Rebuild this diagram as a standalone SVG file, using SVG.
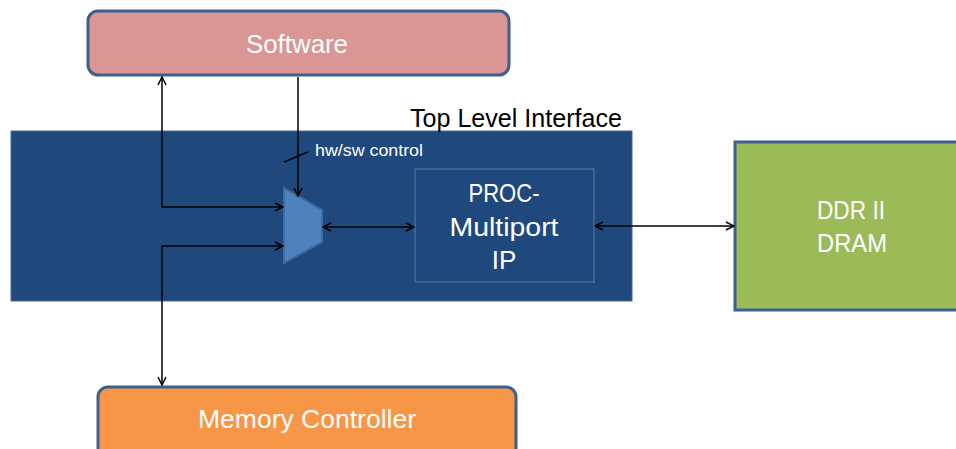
<svg xmlns="http://www.w3.org/2000/svg" width="956" height="449" viewBox="0 0 956 449">
  <style>
    .lbl { font-family: "Liberation Sans", Arial, sans-serif; fill: #ffffff; text-anchor: middle; }
    .box { stroke: #3C5F8E; stroke-width: 3; }
    .wire { fill: none; stroke: #000000; stroke-width: 1.5; }
  </style>
  <defs>
    <marker id="arrow" viewBox="0 0 10 10" refX="9" refY="5" markerWidth="10" markerHeight="10" markerUnits="userSpaceOnUse" orient="auto-start-reverse">
      <path d="M1,1 L9,5 L1,9" fill="none" stroke="#000000" stroke-width="1.5"/>
    </marker>
  </defs>

  <rect width="956" height="449" fill="#ffffff"/>

  <!-- top level interface block -->
  <g id="top-level">
    <rect x="11" y="131" width="621" height="170" fill="#1F497D" stroke="#4A6A95" stroke-width="1"/>
    <text x="410" y="127" font-family="'Liberation Sans', Arial, sans-serif" font-size="25" fill="#000000" textLength="212" lengthAdjust="spacingAndGlyphs">Top Level Interface</text>
  </g>

  <g id="software">
    <rect class="box" x="88" y="11" width="421" height="64" rx="10" fill="#D99694"/>
    <text class="lbl" x="297" y="53" font-size="26" textLength="102" lengthAdjust="spacingAndGlyphs">Software</text>
  </g>

  <g id="memory-controller">
    <rect class="box" x="98" y="387" width="418" height="75" rx="10" fill="#F79646"/>
    <text class="lbl" x="307" y="428" font-size="26" textLength="218" lengthAdjust="spacingAndGlyphs">Memory Controller</text>
  </g>

  <g id="ddr-dram">
    <rect class="box" x="735" y="142" width="240" height="168" fill="#9BBB59"/>
    <text class="lbl" x="851" y="219" font-size="26" textLength="68" lengthAdjust="spacingAndGlyphs">DDR II</text>
    <text class="lbl" x="852" y="252" font-size="26" textLength="70" lengthAdjust="spacingAndGlyphs">DRAM</text>
  </g>

  <g id="proc-multiport">
    <rect x="415" y="169" width="179" height="113" fill="#1F497D" stroke="#3A6396" stroke-width="2"/>
    <text class="lbl" x="504" y="202" font-size="26" textLength="71" lengthAdjust="spacingAndGlyphs">PROC-</text>
    <text class="lbl" x="504" y="236" font-size="26" textLength="109" lengthAdjust="spacingAndGlyphs">Multiport</text>
    <text class="lbl" x="504" y="269" font-size="26">IP</text>
  </g>

  <g id="mux">
    <polygon points="284,188 322,210 322,242 284,263" fill="#4F81BD" stroke="#3E6BA3" stroke-width="2"/>
  </g>

  <g id="connectors">
    <path class="wire" d="M162,77 V207 H283" marker-start="url(#arrow)" marker-end="url(#arrow)"/>
    <path class="wire" d="M162,385 V246 H283" marker-start="url(#arrow)" marker-end="url(#arrow)"/>
    <path class="wire" d="M298,77 V196" marker-end="url(#arrow)"/>
    <path class="wire" d="M323,227 H414" marker-start="url(#arrow)" marker-end="url(#arrow)"/>
    <path class="wire" d="M595,226 H734" marker-start="url(#arrow)" marker-end="url(#arrow)"/>
    <path class="wire" d="M284,162 L308,152"/>
    <text x="315" y="156" font-family="'Liberation Sans', Arial, sans-serif" font-size="16" fill="#ffffff" textLength="108" lengthAdjust="spacingAndGlyphs">hw/sw control</text>
  </g>
</svg>
